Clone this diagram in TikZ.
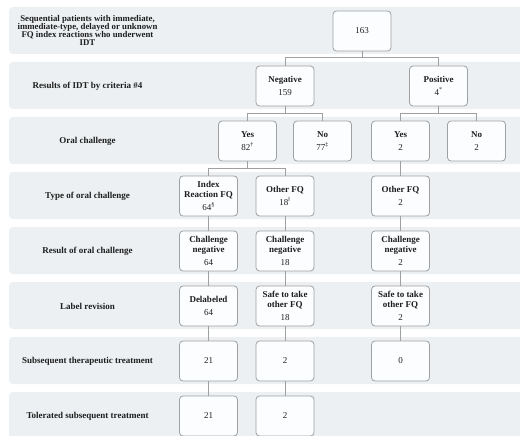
\documentclass[tikz,border=0pt]{standalone}
\usepackage{fontspec}
\setmainfont{Liberation Serif}
\definecolor{bandc}{RGB}{237,240,242}
\definecolor{linec}{RGB}{158,160,162}
\definecolor{boxfill}{RGB}{252,253,254}
\definecolor{txtc}{RGB}{30,30,30}
\begin{document}
\begin{tikzpicture}[x=1pt,y=-1pt,
  band/.style={fill=bandc, rounded corners=4pt},
  box/.style={draw=linec, fill=boxfill, rounded corners=3.5pt, line width=0.8pt,
    minimum width=58pt, minimum height=40pt, inner sep=1pt, align=center,
    text=txtc, font=\fontsize{9}{9.5}\selectfont},
  rowlbl/.style={align=center, text=txtc, font=\bfseries\fontsize{9}{10}\selectfont},
  conn/.style={draw=linec, line width=0.8pt}]
\useasboundingbox (0,0) rectangle (520,436);
\clip (0,0) rectangle (520,436);
\fill[white] (0,0) rectangle (520,436);
% bands
\foreach \i in {0,...,7}{
  \fill[band] (9,{7+55*\i}) rectangle (540,{54+55*\i});
}
% row labels
\node[rowlbl, font=\bfseries\fontsize{8.8}{8.1}\selectfont] (l1) at (87.5,30.5) {Sequential patients with immediate,\\immediate-type, delayed or unknown\\FQ index reactions who underwent\\IDT};
\node[rowlbl] (l2) at (87.5,86) {Results of IDT by criteria \#4};
\node[rowlbl] (l3) at (87.5,141) {Oral challenge};
\node[rowlbl] (l4) at (87.5,196) {Type of oral challenge};
\node[rowlbl] (l5) at (87.5,251) {Result of oral challenge};
\node[rowlbl] (l6) at (87.5,306) {Label revision};
\node[rowlbl] (l7) at (87.5,361) {Subsequent therapeutic treatment};
\node[rowlbl] (l8) at (87.5,416) {Tolerated subsequent treatment};
% boxes
\node[box] (top) at (362,31) {163};
\node[box] (neg) at (285,86) {\textbf{Negative}\\[3.5pt]159};
\node[box] (pos) at (438.5,86) {\textbf{Positive}\\[3.5pt]4\textsuperscript{*}};
\node[box] (yesn) at (247.5,141) {\textbf{Yes}\\[3.5pt]82\textsuperscript{†}};
\node[box] (non) at (322.5,141) {\textbf{No}\\[3.5pt]77\textsuperscript{‡}};
\node[box] (yesp) at (400.5,141) {\textbf{Yes}\\[3.5pt]2};
\node[box] (nop) at (476.5,141) {\textbf{No}\\[3.5pt]2};
\node[box] (idx) at (208.5,196) {\textbf{Index}\\\textbf{Reaction FQ}\\[3.5pt]64\textsuperscript{§}};
\node[box] (oth) at (285,196) {\textbf{Other FQ}\\[3.5pt]18\textsuperscript{‖}};
\node[box] (othp) at (400.5,196) {\textbf{Other FQ}\\[3.5pt]2};
\node[box] (cn1) at (208.5,251) {\textbf{Challenge}\\\textbf{negative}\\[3.5pt]64};
\node[box] (cn2) at (285,251) {\textbf{Challenge}\\\textbf{negative}\\[3.5pt]18};
\node[box] (cn3) at (400.5,251) {\textbf{Challenge}\\\textbf{negative}\\[3.5pt]2};
\node[box] (lr1) at (208.5,306) {\textbf{Delabeled}\\[3.5pt]64};
\node[box] (lr2) at (285,306) {\textbf{Safe to take}\\\textbf{other FQ}\\[3.5pt]18};
\node[box] (lr3) at (400.5,306) {\textbf{Safe to take}\\\textbf{other FQ}\\[3.5pt]2};
\node[box] (st1) at (208.5,361) {21};
\node[box] (st2) at (285,361) {2};
\node[box] (st3) at (400.5,361) {0};
\node[box] (tt1) at (208.5,416) {21};
\node[box] (tt2) at (285,416) {2};
% connectors
\draw[conn] (top.south) -- ([yshift=-6.5pt]top.south) -| (neg.north);
\draw[conn] ([yshift=-6.5pt]top.south) -| (pos.north);
\draw[conn] (neg.south) -- ([yshift=-7pt]neg.south) -| (yesn.north);
\draw[conn] ([yshift=-7pt]neg.south) -| (non.north);
\draw[conn] (pos.south) -- ([yshift=-7pt]pos.south) -| (yesp.north);
\draw[conn] ([yshift=-7pt]pos.south) -| (nop.north);
\draw[conn] (yesn.south) -- ([yshift=-7pt]yesn.south) -| (idx.north);
\draw[conn] ([yshift=-7pt]yesn.south) -| (oth.north);
\draw[conn] (yesp.south) -- (othp.north);
\draw[conn] (idx.south) -- (cn1.north);
\draw[conn] (oth.south) -- (cn2.north);
\draw[conn] (othp.south) -- (cn3.north);
\draw[conn] (cn1.south) -- (lr1.north);
\draw[conn] (cn2.south) -- (lr2.north);
\draw[conn] (cn3.south) -- (lr3.north);
\draw[conn] (lr1.south) -- (st1.north);
\draw[conn] (lr2.south) -- (st2.north);
\draw[conn] (lr3.south) -- (st3.north);
\draw[conn] (st1.south) -- (tt1.north);
\draw[conn] (st2.south) -- (tt2.north);
\end{tikzpicture}
\end{document}
